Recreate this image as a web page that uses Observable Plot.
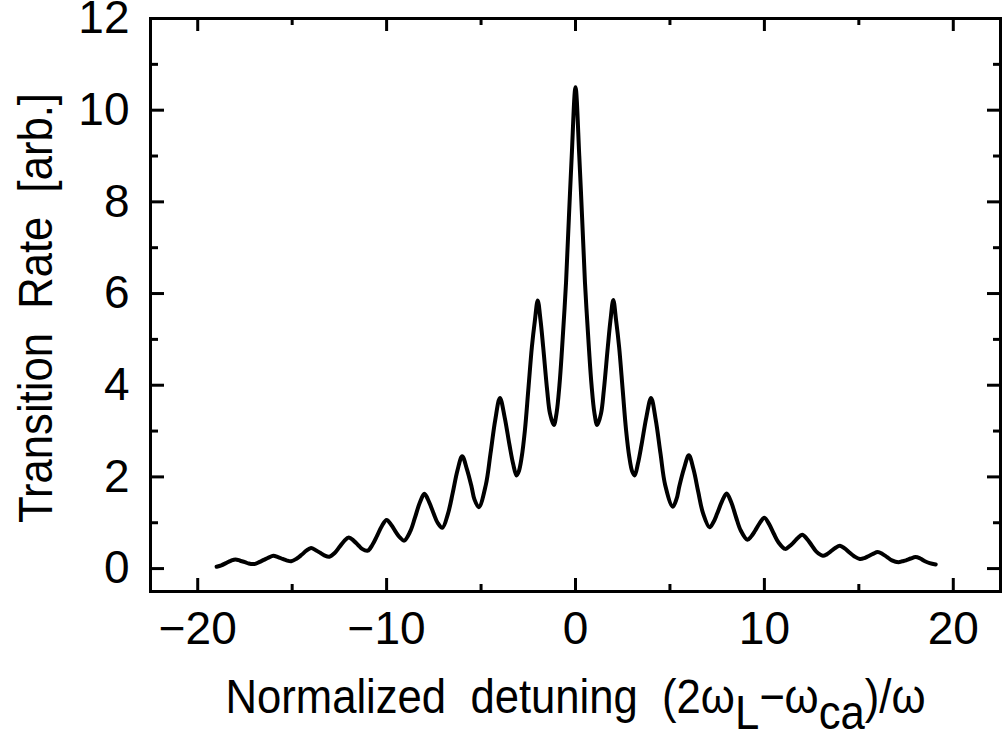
<!DOCTYPE html>
<html>
<head>
<meta charset="utf-8">
<script src="https://cdn.jsdelivr.net/npm/d3@7"></script>
<script src="https://cdn.jsdelivr.net/npm/@observablehq/plot@0.6"></script>
<style>
  html, body { margin: 0; padding: 0; background: #fff; color: #000; }
  #chart svg { display: block; }
</style>
</head>
<body>
<div id="chart"></div>
<script>
// ---- data ----
const detuning = [
  -19, -18.75, -18.5, -18.25, -18, -17.75, -17.5, -17.3, -17,
  -16.75, -16.5, -16.25, -16, -15.75, -15.5, -15.3, -15.05,
  -14.75, -14.5, -14.25, -14, -13.75, -13.5, -13.3, -13.03,
  -12.75, -12.5, -12.25, -12, -11.75, -11.5, -11.3, -11,
  -10.75, -10.5, -10.25, -10, -9.75, -9.5, -9.3, -9.07,
  -8.75, -8.5, -8.25, -8, -7.75, -7.5, -7.3, -7.05,
  -6.75, -6.5, -6.25, -6, -5.75, -5.5, -5.35, -5.12,
  -4.75, -4.5, -4.25, -4, -3.75, -3.5, -3.3, -3.12, -3.0,
  -2.85, -2.68, -2.5, -2.31, -2.15, -2, -1.85, -1.71, -1.5, -1.35, -1.15,
  -1.0, -0.85, -0.72, -0.5, -0.35, -0.2, 0,
  0.2, 0.35, 0.5, 0.72, 0.85, 1.0,
  1.15, 1.35, 1.5, 1.71, 1.85, 2, 2.15, 2.31, 2.5, 2.68, 2.85,
  3.0, 3.13, 3.3, 3.5, 3.75, 4, 4.25, 4.5, 4.75,
  5.15, 5.35, 5.5, 5.75, 6, 6.25, 6.5, 6.75,
  7.1, 7.3, 7.5, 7.75, 8, 8.25, 8.5, 8.75,
  9.1, 9.3, 9.5, 9.75, 10, 10.25, 10.5, 10.75,
  11.1, 11.3, 11.5, 11.75, 12, 12.25, 12.5, 12.75,
  13.1, 13.3, 13.5, 13.75, 14, 14.25, 14.5, 14.75,
  15.05, 15.3, 15.5, 15.75, 16, 16.25, 16.5, 16.75,
  17.1, 17.3, 17.5, 17.75, 18, 18.25, 18.5, 18.75, 19.07
];
const rate = [
  0.04, 0.07, 0.12, 0.17, 0.20, 0.17, 0.14, 0.11, 0.10,
  0.14, 0.19, 0.24, 0.28, 0.25, 0.21, 0.18, 0.16,
  0.22, 0.30, 0.39, 0.45, 0.40, 0.34, 0.29, 0.26,
  0.34, 0.47, 0.60, 0.68, 0.61, 0.51, 0.43, 0.39,
  0.52, 0.72, 0.93, 1.06, 0.95, 0.79, 0.68, 0.61,
  0.81, 1.11, 1.43, 1.63, 1.45, 1.19, 1.00, 0.89,
  1.20, 1.65, 2.14, 2.45, 2.17, 1.78, 1.51, 1.34,
  1.82, 2.51, 3.24, 3.72, 3.30, 2.71, 2.28, 2.03, 2.12,
  2.43, 3.01, 3.89, 4.83, 5.41, 5.85, 5.41, 4.83, 3.89, 3.38, 3.13,
  3.40, 4.00, 4.75, 6.25, 7.65, 9.00, 10.5,
  9.00, 7.65, 6.25, 4.75, 4.00, 3.40,
  3.13, 3.38, 3.89, 4.83, 5.41, 5.86, 5.41, 4.83, 3.89, 3.01, 2.43,
  2.12, 2.03, 2.28, 2.71, 3.30, 3.72, 3.24, 2.51, 1.82,
  1.35, 1.52, 1.80, 2.19, 2.47, 2.16, 1.67, 1.21,
  0.90, 1.01, 1.20, 1.46, 1.64, 1.44, 1.12, 0.83,
  0.63, 0.70, 0.82, 0.99, 1.11, 0.97, 0.76, 0.57,
  0.43, 0.48, 0.55, 0.66, 0.74, 0.65, 0.51, 0.37,
  0.28, 0.31, 0.37, 0.45, 0.50, 0.44, 0.35, 0.27,
  0.21, 0.23, 0.27, 0.32, 0.36, 0.32, 0.25, 0.18,
  0.14, 0.16, 0.18, 0.22, 0.25, 0.22, 0.16, 0.12, 0.09
];
const xMajorTicks = [-20, -10, 0, 10, 20];
const xMinorTicks = [-15, -5, 5, 15];
const yMajorTicks = [0, 2, 4, 6, 8, 10, 12];
const yMinorTicks = [1, 3, 5, 7, 9, 11];
const xDomain = [-22.5, 22.5];
const yDomain = [-0.5, 12];
const yLabel = "Transition\u00a0 Rate\u00a0 [arb.]";
const xLabelParts = [
  {t: "Normalized\u00a0 detuning\u00a0 (2\u03c9", sub: false},
  {t: "L", sub: true},
  {t: "\u2212\u03c9", sub: false},
  {t: "ca", sub: true},
  {t: ")/\u03c9", sub: false}
];
const xLabel = xLabelParts.map(p => p.t).join("");

// ---- layout ----
const W = 1002, H = 736;
const mt = 18, mb = 145, ml = 150, mr = 2;
const innerW = W - ml - mr, innerH = H - mt - mb;
const majorLen = 13, minorLen = 7;
const font = "'Liberation Sans', Arial, Helvetica, sans-serif";

const points = detuning.map((x, i) => ({x, y: rate[i]}));
const tickStyle = {stroke: "black", strokeWidth: 3};

const chart = Plot.plot({
  width: W, height: H,
  marginTop: mt, marginBottom: mb, marginLeft: ml, marginRight: mr,
  x: {domain: xDomain},
  y: {domain: yDomain},
  style: {fontFamily: font, color: "black", background: "white", overflow: "visible"},
  marks: [
    // inward ticks: bottom / top
    Plot.tickX(xMajorTicks, {x: d => d, insetTop: innerH - majorLen, ...tickStyle}),
    Plot.tickX(xMinorTicks, {x: d => d, insetTop: innerH - minorLen, ...tickStyle}),
    Plot.tickX(xMajorTicks, {x: d => d, insetBottom: innerH - majorLen, ...tickStyle}),
    Plot.tickX(xMinorTicks, {x: d => d, insetBottom: innerH - minorLen, ...tickStyle}),
    // inward ticks: left / right
    Plot.tickY(yMajorTicks, {y: d => d, insetRight: innerW - majorLen - 1, ...tickStyle}),
    Plot.tickY(yMinorTicks, {y: d => d, insetRight: innerW - minorLen - 1, ...tickStyle}),
    Plot.tickY(yMajorTicks, {y: d => d, insetLeft: innerW - majorLen, ...tickStyle}),
    Plot.tickY(yMinorTicks, {y: d => d, insetLeft: innerW - minorLen, ...tickStyle}),
    Plot.frame({stroke: "black", strokeWidth: 3}),
    // tick labels
    Plot.axisX({ticks: xMajorTicks, tickSize: 0, tickPadding: 20, fontSize: 46, label: null}),
    Plot.axisY({ticks: yMajorTicks, tickSize: 0, tickPadding: 21, fontSize: 46, label: null}),
    // axis titles
    Plot.text([xLabel], {text: d => d, frameAnchor: "bottom", textAnchor: "middle", dy: 121, lineAnchor: "bottom", fontSize: 48}),
    Plot.text([yLabel], {text: d => d, frameAnchor: "left", textAnchor: "middle", rotate: -90, dx: -114, dy: 3, fontSize: 48}),
    // curve
    Plot.line(points, {x: "x", y: "y", curve: "catmull-rom", stroke: "black", strokeWidth: 4, strokeLinejoin: "round"})
  ]
});

document.getElementById("chart").appendChild(chart);

// subscripts in the x-axis title, and narrow set widths like the original lettering
d3.select(chart).selectAll("text").filter(function() { return this.textContent === xLabel; })
  .each(function() {
    const t = d3.select(this);
    t.text(null);
    let shifted = false;
    for (const p of xLabelParts) {
      const s = t.append("tspan").text(p.t);
      if (p.sub && !shifted) { s.attr("dy", "0.34em"); shifted = true; }
      else if (!p.sub && shifted) { s.attr("dy", "-0.34em"); shifted = false; }
    }
    t.attr("textLength", 700).attr("lengthAdjust", "spacingAndGlyphs");
  });
d3.select(chart).selectAll("text").filter(function() { return this.textContent === yLabel; })
  .attr("textLength", 430).attr("lengthAdjust", "spacingAndGlyphs");
</script>
</body>
</html>
